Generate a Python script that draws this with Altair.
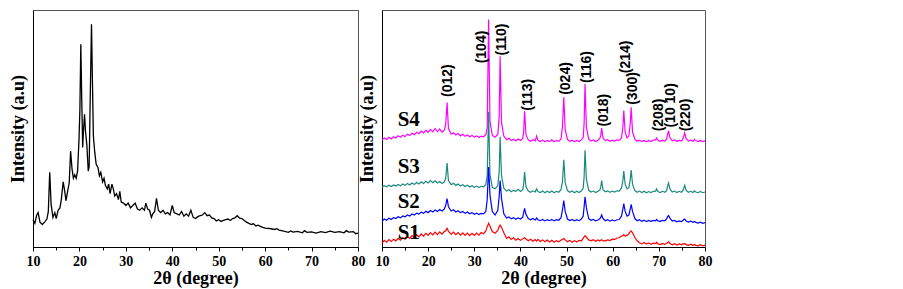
import altair as alt
import pandas as pd

# ---------------- left panel (precursor) ----------------
left_x = [10, 10.4, 10.8, 11.1, 11.5, 12, 12.5, 13, 13.3, 13.6, 13.9, 14.3, 14.7, 15, 15.4, 15.8,
          16.1, 16.5, 16.8, 17.1, 17.5, 17.8, 18.1, 18.4, 18.7, 19.0, 19.3, 19.6, 19.9, 20.1, 20.3,
          20.5, 20.7, 20.9, 21.1, 21.3, 21.6, 21.9, 22.1, 22.3, 22.6, 22.8, 23.0, 23.3, 23.6, 24.0,
          24.3, 24.6, 25.0, 25.3, 25.6, 26.0, 26.3, 26.6, 27.0, 27.3, 27.6, 28.0, 28.4, 28.7, 29.0,
          29.5, 30, 30.5, 31, 31.5, 32, 32.5, 33, 33.5, 34, 34.3, 34.7, 35.1, 35.5, 35.8, 36.2, 36.6,
          37, 37.5, 38, 38.5, 39, 39.5, 40, 40.4, 41, 41.5, 42, 42.5, 43, 43.5, 44, 44.5, 45, 45.5,
          46, 46.5, 47, 47.5, 48, 48.5, 49, 49.5, 50, 50.5, 51, 51.5, 52, 52.5, 53, 53.5, 54, 54.5,
          55, 55.5, 56, 56.5, 57, 57.5, 58, 58.5, 59, 59.5, 60, 61, 62, 62.5, 63, 64, 65, 65.5, 66,
          67, 68, 68.5, 69, 70, 71, 72, 73, 74, 75, 76, 77, 77.5, 78, 79, 79.5, 80]
left_y = [11.5, 10.0, 13.5, 14.5, 10.5, 9.5, 10.5, 11.8, 15, 31.5, 18, 12.5, 14.5, 12.0, 15.5, 16.5,
          20, 27.5, 24, 19.5, 24, 27, 40.5, 33, 29, 30.5, 29, 32, 45, 58, 85.5,
          62, 42, 50, 56, 49, 43, 32, 34, 60, 94, 70, 47, 40, 35, 33.5,
          30, 31.5, 27.5, 29, 26, 24.5, 26.5, 22.5, 26.5, 24.5, 21.5, 22.5, 20, 23.5, 19,
          18.5, 17.5, 18.5, 16.5, 17.5, 18.5, 16, 15.5, 16.5, 15.5, 18.5, 16, 15.5, 12.5, 14, 15, 20.5,
          15.5, 14.5, 15.5, 14, 14.5, 13.5, 17.5, 14.5, 14, 13.5, 15, 13, 14, 13, 15.5, 12.5, 12, 12.8,
          13.2, 13.5, 14.5, 13.2, 13.5, 12.3, 12, 11, 11.5, 10.8, 11.2, 11.5, 11.8, 11.2, 12, 12.3, 13.2, 12.2,
          12, 11.2, 10.5, 10, 9.5, 9.8, 8.9, 9.2, 8.7, 8.3, 8, 7.8, 7.4, 7.7, 7.1, 6.7, 6.2, 6.8, 6.3,
          6.6, 6.0, 6.9, 6.2, 6.4, 5.9, 6.5, 6.1, 6.7, 6.2, 6.5, 6.0, 6.9, 6.3, 6.5, 5.6, 5.9]

# ---------------- right panel (S1-S4) ----------------
right_x = [10, 10.5, 11, 11.5, 12, 12.5, 13, 13.5, 14, 14.5, 15, 15.5, 16, 16.5, 17, 17.5, 18, 18.5,
           19, 19.5, 20, 20.5, 21, 21.5, 22, 22.5, 23, 23.5,
           23.8, 24.1, 24.4,
           25, 25.5, 26, 26.5, 27, 27.5, 28, 28.5, 29, 29.5, 30, 30.5, 31, 31.5, 32, 32.5,
           32.8, 33.1, 33.4, 33.9, 34.5, 35.1, 35.4, 35.6, 35.9, 36.4,
           37, 37.5, 38, 38.5, 39, 39.5, 40, 40.5,
           40.7, 40.9, 41.2,
           41.7, 42.2, 42.7, 43.2, 43.5, 43.8, 44.3, 44.8, 45.3, 45.8, 46.3, 46.8, 47.3, 47.8, 48.3, 48.8,
           49.1, 49.4, 49.7,
           50.2, 50.7, 51.2, 51.7, 52.2, 52.7, 53.2, 53.6,
           53.8, 54.0, 54.3,
           54.8, 55.3, 55.8, 56.3, 56.8, 57.2,
           57.4, 57.6, 57.9,
           58.4, 58.9, 59.4, 59.9, 60.4, 60.9, 61.4, 61.9,
           62.2, 62.4, 62.7, 63.1, 63.5, 63.8, 64.0, 64.3,
           64.8, 65.3, 65.8, 66.3, 66.8, 67.3, 67.8, 68.3, 68.8,
           69.3, 69.5, 69.8,
           70.3, 70.8, 71.3, 71.7,
           71.9, 72.1, 72.4,
           72.9, 73.4, 73.9, 74.4, 74.9, 75.2,
           75.4, 75.6, 75.9,
           76.4, 76.9, 77.4, 77.7, 78.0, 78.5, 79.0, 79.5, 80]

s4_y = [45.2, 46.0, 45.4, 46.3, 45.6, 46.5, 46.0, 46.9, 46.3, 47.2, 46.6, 47.6, 47.0, 48.0, 47.4, 48.4,
        47.8, 48.9, 48.1, 49.2, 48.4, 49.6, 48.6, 50.0, 48.7, 49.8, 48.5, 49.3,
        51.5, 61.0, 50.0,
        47.6, 48.2, 47.3, 47.9, 46.9, 47.6, 46.7, 47.3, 46.5, 47.1, 46.4, 46.9, 46.2, 46.8, 46.5, 47.4,
        50.5, 96.0, 53.0, 47.2, 46.3, 47.5, 55.0, 80.5, 52.5, 46.8,
        45.3, 45.9, 44.9, 45.5, 44.8, 45.6, 44.9, 45.8,
        48.5, 57.3, 47.5,
        45.2, 44.6, 45.3, 44.8, 46.8, 45.0, 44.5, 45.1, 44.4, 45.0, 44.5, 45.2, 44.4, 45.0, 44.6, 45.6,
        50.5, 63.2, 49.5,
        45.4, 44.6, 45.1, 44.4, 45.0, 44.5, 45.2, 46.2,
        52.0, 68.8, 50.5,
        45.5, 44.7, 45.2, 44.5, 45.0, 45.8,
        47.0, 50.2, 46.0,
        44.9, 45.3, 44.6, 45.1, 44.7, 45.2, 45.0, 46.0,
        50.5, 57.6, 48.5, 46.0, 46.8, 52.0, 59.0, 48.5,
        45.5, 44.6, 45.1, 44.5, 45.0, 44.4, 45.0, 44.5, 45.1,
        45.2, 46.0, 45.0,
        44.6, 45.1, 44.7, 45.6,
        47.5, 49.0, 46.2,
        44.8, 45.2, 44.6, 45.0, 44.7, 45.6,
        46.8, 48.2, 45.8,
        44.7, 45.1, 44.6, 45.4, 44.9, 44.5, 45.0, 44.5, 44.8]

s3_y = [25.2, 25.9, 25.4, 26.1, 25.5, 26.2, 25.7, 26.4, 25.8, 26.6, 26.0, 26.8, 26.2, 27.0, 26.4, 27.2,
        26.6, 27.5, 26.8, 27.7, 27.0, 28.0, 27.1, 27.9, 27.0, 27.6, 26.8, 27.4,
        29.0, 35.4, 28.0,
        26.3, 26.9, 26.0, 26.6, 25.7, 26.3, 25.5, 26.1, 25.3, 25.9, 25.2, 25.7, 25.1, 25.6, 25.4, 26.4,
        30.0, 57.0, 30.5, 25.2, 24.6, 25.8, 32.0, 46.5, 30.0, 24.8,
        23.6, 24.2, 23.3, 23.9, 23.5, 24.3, 23.4, 24.2,
        26.5, 31.6, 25.5,
        23.6, 23.1, 23.7, 23.2, 24.5, 23.4, 23.0, 23.6, 22.9, 23.5, 23.0, 23.6, 22.9, 23.5, 23.1, 24.2,
        27.5, 36.8, 27.0,
        23.8, 23.1, 23.6, 22.9, 23.5, 23.0, 23.7, 24.8,
        29.5, 40.8, 28.5,
        23.9, 23.2, 23.6, 23.0, 23.5, 24.0,
        25.2, 28.0, 24.2,
        23.3, 23.7, 23.1, 23.6, 23.2, 23.7, 23.6, 24.8,
        28.0, 32.0, 26.5, 24.5, 25.0, 28.5, 32.5, 26.5,
        23.8, 23.1, 23.6, 23.0, 23.5, 22.9, 23.4, 23.0, 23.5,
        23.6, 24.5, 23.4,
        23.0, 23.5, 23.1, 23.9,
        25.8, 27.0, 24.5,
        23.2, 23.6, 23.0, 23.5, 23.1, 23.8,
        24.8, 26.0, 24.0,
        23.1, 23.5, 23.0, 23.7, 23.2, 22.9, 23.4, 22.9, 23.2]

s2_y = [11.0, 11.8, 11.3, 12.1, 11.6, 12.4, 12.0, 12.8, 12.3, 13.1, 12.7, 13.5, 13.1, 13.9, 13.5, 14.3,
        13.9, 14.7, 14.2, 15.1, 14.5, 15.4, 14.8, 15.6, 15.0, 15.8, 15.2, 16.0,
        17.5, 20.4, 17.0,
        15.2, 15.7, 14.8, 15.3, 14.5, 15.0, 14.2, 14.8, 14.0, 14.5, 13.8, 14.3, 13.7, 14.2, 14.0, 15.0,
        20.0, 33.7, 22.0, 15.0, 13.5, 15.5, 21.5, 28.0, 20.5, 14.0,
        12.2, 12.7, 11.9, 12.4, 11.7, 12.3, 11.8, 12.6,
        14.5, 16.3, 13.8,
        12.0, 11.5, 12.0, 11.4, 12.2, 11.5, 11.1, 11.6, 11.0, 11.5, 11.1, 11.6, 11.0, 11.5, 11.3, 12.4,
        15.5, 19.6, 15.0,
        11.8, 11.2, 11.6, 11.0, 11.5, 11.1, 11.8, 13.0,
        17.0, 21.2, 16.5,
        12.0, 11.3, 11.6, 11.0, 11.4, 11.9,
        12.5, 13.5, 12.0,
        11.1, 11.5, 10.9, 11.4, 11.0, 11.5, 11.6, 13.0,
        16.0, 18.3, 15.0, 13.0, 13.5, 16.0, 18.0, 15.0,
        12.0, 11.1, 11.5, 10.8, 11.3, 10.7, 11.2, 10.8, 11.2,
        11.0, 11.6, 11.0,
        10.8, 11.2, 11.0, 12.0,
        12.8, 13.3, 12.2,
        10.9, 11.2, 10.6, 11.0, 10.7, 11.2,
        11.6, 11.8, 11.0,
        10.5, 10.9, 10.4, 10.8, 10.4, 10.1, 10.5, 10.0, 10.3]

s1_y = [1.6, 2.8, 2.0, 3.1, 2.3, 3.3, 2.6, 3.7, 2.9, 4.0, 3.3, 4.4, 3.6, 4.8, 4.0, 5.1,
        4.3, 5.5, 4.6, 5.8, 4.9, 6.1, 5.1, 6.3, 5.2, 6.4, 5.4, 6.5,
        6.8, 7.9, 6.6,
        5.4, 6.3, 5.2, 6.1, 5.0, 6.0, 4.9, 5.9, 4.8, 5.8, 4.9, 5.9, 5.0, 6.1, 5.6, 6.8,
        8.5, 10.0, 8.8, 6.5, 5.8, 7.0, 8.6, 9.2, 8.3, 6.0,
        3.6, 4.3, 3.2, 3.9, 2.9, 3.6, 2.8, 3.5,
        3.6, 4.0, 3.4,
        2.6, 3.3, 2.4, 3.1, 2.5, 3.2, 2.3, 3.0, 2.2, 2.9, 2.1, 2.8, 2.0, 2.7, 2.2, 2.9,
        3.2, 3.6, 3.0,
        2.2, 2.8, 2.0, 2.7, 2.1, 2.8, 2.6, 3.6,
        4.3, 4.8, 4.2,
        3.0, 2.6, 3.1, 2.4, 3.0, 2.5,
        2.9, 3.1, 2.6,
        2.6, 3.0, 2.7, 3.3, 3.2, 3.8, 3.9, 4.6,
        4.8, 5.2, 4.6, 4.9, 5.6, 6.4, 6.8, 6.0,
        4.0, 2.6, 1.8, 1.3, 1.9, 1.2, 1.7, 1.1, 1.6,
        1.4, 2.0, 1.3,
        1.0, 1.5, 1.1, 1.6,
        1.9, 2.2, 1.5,
        0.9, 1.4, 0.8, 1.3, 0.9, 1.4,
        1.2, 1.5, 1.0,
        0.7, 1.2, 0.6, 1.1, 0.7, 0.5, 1.0, 0.5, 0.8]

series_names = ["S4", "S3", "S2", "S1"]
series_values = [s4_y, s3_y, s2_y, s1_y]
series_colors = ["#ff00ff", "#1b8a7e", "#0000ff", "#ff0000"]
sample_label_x = [13.4, 13.4, 13.4, 13.4]
sample_label_y = [53.7, 33.7, 19.0, 5.8]

hkl_labels = ["(012)", "(104)", "(110)", "(113)", "(024)", "(116)", "(018)", "(214)", "(300)",
              "(208)", "(10 10)", "(220)"]
hkl_x = [24.2, 31.7, 36.0, 41.6, 49.9, 54.4, 58.2, 62.9, 64.3, 70.1, 72.6, 75.9]
hkl_y = [63.3, 77.5, 80.8, 57.5, 64.2, 69.2, 50.8, 73.3, 60.0, 48.8, 50.4, 48.8]

# ---------------- build ----------------
SERIF = "Liberation Serif"
SANS = "Liberation Sans"

left_df = pd.DataFrame({"x": left_x, "y": left_y})
rows = []
for name, vals in zip(series_names, series_values):
    rows.append(pd.DataFrame({"x": right_x, "y": vals, "s": name}))
right_df = pd.concat(rows, ignore_index=True)
hkl_df = pd.DataFrame({"x": hkl_x, "y": hkl_y, "t": hkl_labels})
samp_df = pd.DataFrame({"x": sample_label_x, "y": sample_label_y, "t": series_names})

x_axis = alt.Axis(
    values=list(range(10, 81, 5)),
    labelExpr="datum.value % 10 === 0 ? datum.label : ''",
    tickSize={"condition": {"test": "datum.value % 10 === 0", "value": 4}, "value": 3},
    tickColor="black", tickWidth=1,
    domain=True, domainColor="black", domainWidth=1, grid=False, labelFlush=False,
    labelFont=SERIF, labelFontWeight="bold", labelFontSize=14, labelColor="black",
    labelPadding=3,
    title="2θ (degree)", titleFont=SERIF, titleFontWeight="bold", titleFontSize=18,
    titleColor="black", titlePadding=1,
)
y_axis = alt.Axis(
    ticks=False, labels=False, domain=True, domainColor="black", grid=False,
    title="Intensity (a.u)", titleFont=SERIF, titleFontWeight="bold", titleFontSize=18,
    titleColor="black", titlePadding=6,
)
xs = alt.Scale(domain=[10, 80], nice=False)
ys = alt.Scale(domain=[0, 100], nice=False, zero=False)

def X():
    return alt.X("x:Q", scale=xs, axis=x_axis)

def Y():
    return alt.Y("y:Q", scale=ys, axis=y_axis)

left = alt.Chart(left_df).mark_line(color="black", strokeWidth=1.3).encode(
    x=X(), y=Y()
).properties(width=325, height=237)

layers = []
for name, col in zip(series_names, series_colors):
    layers.append(
        alt.Chart(right_df).transform_filter(alt.datum.s == name)
        .mark_line(color=col, strokeWidth=1.2)
        .encode(x=X(), y=Y())
    )
hkl_text = alt.Chart(hkl_df).mark_text(
    angle=270, align="left", baseline="middle", font=SANS, fontWeight="bold",
    fontSize=14, color="black"
).encode(x=X(), y=Y(), text="t:N")
samp_text = alt.Chart(samp_df).mark_text(
    align="left", baseline="middle", font=SERIF, fontWeight="bold", fontSize=21, color="black"
).encode(x=X(), y=Y(), text="t:N")

right = alt.layer(*layers, hkl_text, samp_text).properties(width=323, height=237)

chart = alt.hconcat(left, right, spacing=24, bounds="flush").configure_view(
    stroke="#555555", strokeWidth=1
).properties(
    padding={"left": 0, "top": 1, "right": 5, "bottom": 0}
)

chart.save("out.html", embed_options={"renderer": "svg", "actions": False})
